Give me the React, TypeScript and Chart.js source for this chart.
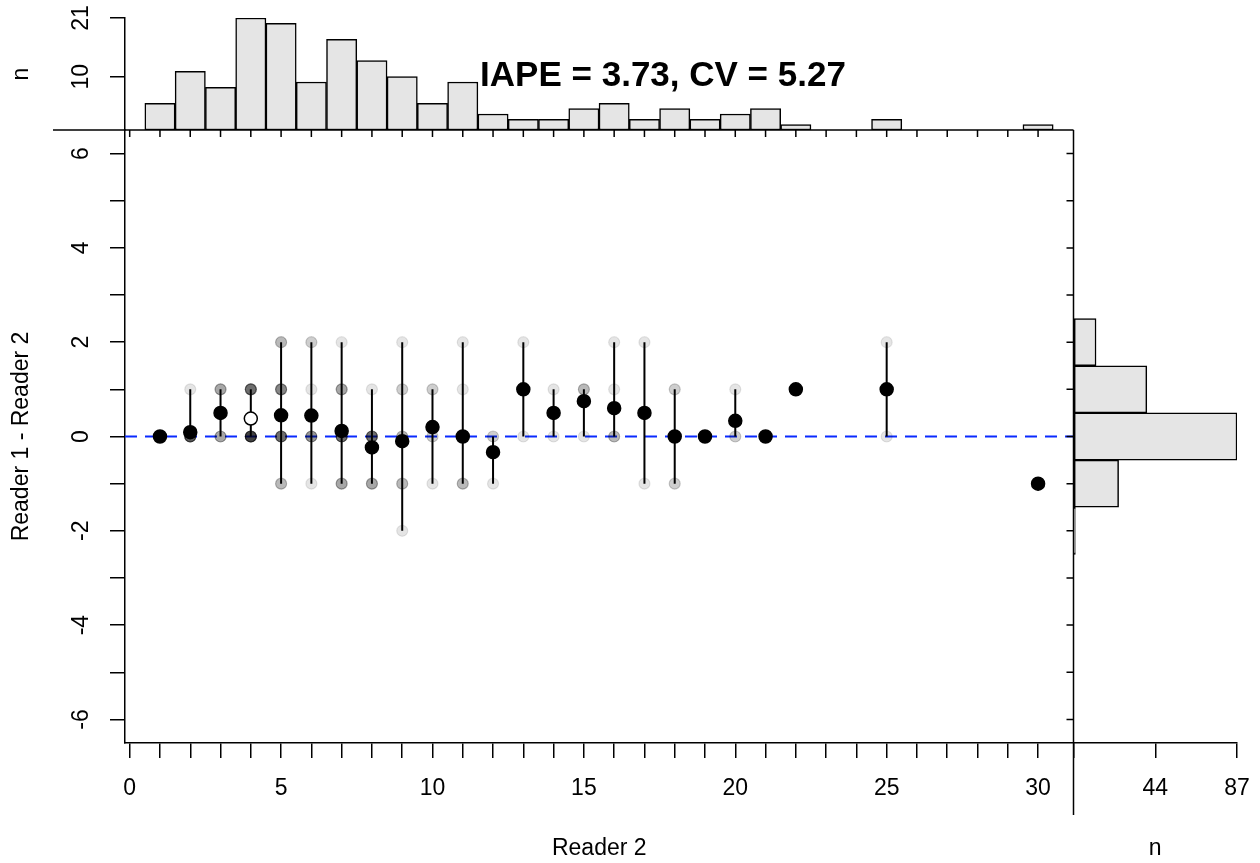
import React, { useEffect, useRef } from 'react';
import { Chart, registerables } from 'chart.js';

Chart.register(...registerables);

// ---- Data ----
// Top histogram: number of fish per Reader 2 age
const HIST_AGE = [1, 2, 3, 4, 5, 6, 7, 8, 9, 10, 11, 12, 13, 14, 15, 16, 17, 18, 19, 20, 21, 22, 25, 30];
const HIST_N = [5, 11, 8, 21, 20, 9, 17, 13, 10, 5, 9, 3, 2, 2, 4, 5, 2, 4, 2, 3, 4, 1, 2, 1];

// Right histogram: number of fish per difference (Reader 1 - Reader 2)
const DIFF_BIN = [2, 1, 0, -1, -2];
const DIFF_N = [12, 39, 87, 24, 1];

// Individual observations (Reader 2 age, difference, count of fish at that pair)
const OBS_AGE = [1, 2, 2, 3, 3, 4, 4, 5, 5, 5, 5, 6, 6, 6, 6, 7, 7, 7, 7, 8, 8, 8, 9, 9, 9, 9, 9, 10, 10, 10, 11, 11, 11, 11, 12, 12, 13, 13, 14, 14, 15, 15, 16, 16, 16, 17, 17, 18, 18, 19, 20, 20, 21, 22, 25, 25, 30];
const OBS_DIFF = [0, 1, 0, 1, 0, 1, 0, 2, 1, 0, -1, 2, 1, 0, -1, 2, 1, 0, -1, 1, 0, -1, 2, 1, 0, -1, -2, 1, 0, -1, 2, 1, 0, -1, 0, -1, 2, 0, 1, 0, 1, 0, 2, 1, 0, 2, -1, 1, -1, 0, 1, 0, 0, 1, 2, 0, -1];
const OBS_COUNT = [5, 1, 10, 4, 4, 8, 13, 3, 6, 8, 3, 2, 1, 5, 1, 1, 4, 8, 4, 1, 8, 4, 1, 2, 3, 3, 1, 2, 2, 1, 1, 1, 4, 3, 2, 1, 1, 1, 1, 1, 3, 1, 1, 1, 3, 1, 1, 2, 2, 2, 1, 2, 4, 1, 1, 1, 1];

// Ages whose mean is drawn with an open symbol
const OPEN_MEAN_AGES = [4];

// Axes
const X_MIN = -0.155;
const X_MAX = 31.17;
const Y_MIN = -6.5;
const Y_MAX = 6.5;
const TOP_MAX = 21;
const RIGHT_MAX = 87;
const X_TICKS = [0, 1, 2, 3, 4, 5, 6, 7, 8, 9, 10, 11, 12, 13, 14, 15, 16, 17, 18, 19, 20, 21, 22, 23, 24, 25, 26, 27, 28, 29, 30];
const Y_TICKS = [-6, -5, -4, -3, -2, -1, 0, 1, 2, 3, 4, 5, 6];
const TOP_TICKS = [10, 21];
const RIGHT_TICKS = [0, 43.5, 87];
const RIGHT_LABELS = ['', '44', '87'];
const STAT_TEXT = 'IAPE = 3.73, CV = 5.27';

const FONT = "'Liberation Sans', Arial, Helvetica, sans-serif";

// ---- Derived tables for the library ----
function buildStats() {
  const ages = Array.from(new Set(OBS_AGE));
  return ages.map((a) => {
    let n = 0, s = 0, mn = Infinity, mx = -Infinity;
    OBS_AGE.forEach((g, i) => {
      if (g === a) {
        n += OBS_COUNT[i];
        s += OBS_DIFF[i] * OBS_COUNT[i];
        mn = Math.min(mn, OBS_DIFF[i]);
        mx = Math.max(mx, OBS_DIFF[i]);
      }
    });
    return { age: a, mean: s / n, min: mn, max: mx };
  });
}

const fitBox = (w: number | null, h: number | null) => (s: any) => {
  if (w !== null) s.width = w;
  if (h !== null) s.height = h;
  s.paddingLeft = 0;
  s.paddingRight = 0;
  s.paddingTop = 0;
  s.paddingBottom = 0;
};

const decorPlugin = {
  id: 'decor',
  afterDatasetsDraw(chart: any) {
    const { ctx, scales } = chart;
    const x = scales.x;
    const yM = scales.yMain;
    const yT = scales.yTop;
    ctx.save();
    ctx.strokeStyle = '#000';
    ctx.lineWidth = 1.5;
    ctx.beginPath();
    const yb = yT.bottom;
    ctx.moveTo(yT.right - 72, yb);
    ctx.lineTo(x.right, yb);
    ctx.moveTo(x.right, yb);
    ctx.lineTo(x.right, yM.bottom + 72);
    X_TICKS.forEach((v) => {
      const px = x.getPixelForValue(v);
      ctx.moveTo(px, yM.top);
      ctx.lineTo(px, yM.top + 7);
    });
    Y_TICKS.forEach((v) => {
      const py = yM.getPixelForValue(v);
      ctx.moveTo(x.right, py);
      ctx.lineTo(x.right - 7, py);
    });
    ctx.stroke();
    ctx.fillStyle = '#000';
    ctx.font = `bold 35px ${FONT}`;
    ctx.textAlign = 'center';
    ctx.textBaseline = 'middle';
    ctx.fillText(STAT_TEXT, 663, 76);
    ctx.restore();
  },
};

export default function App() {
  const ref = useRef<HTMLCanvasElement | null>(null);

  useEffect(() => {
    if (!ref.current) return;
    Chart.defaults.font.family = FONT;
    Chart.defaults.font.size = 23;
    Chart.defaults.color = '#000';

    const stats = buildStats();

    const obsPoints: { x: number; y: number }[] = [];
    OBS_AGE.forEach((a, i) => {
      for (let k = 0; k < OBS_COUNT[i]; k++) obsPoints.push({ x: a, y: OBS_DIFF[i] });
    });

    const rangeData: { x: number; y: number | null }[] = [];
    stats.forEach((s) => {
      if (s.max > s.min) {
        rangeData.push({ x: s.age, y: s.min });
        rangeData.push({ x: s.age, y: s.max });
        rangeData.push({ x: s.age, y: null });
      }
    });

    const meanData = stats.map((s) => ({ x: s.age, y: s.mean }));
    const meanFill = stats.map((s) => (OPEN_MEAN_AGES.includes(s.age) ? '#ffffff' : '#000000'));

    const axisGrid = {
      offset: false,
      drawOnChartArea: false,
      drawTicks: true,
      tickLength: 15,
      tickColor: '#000',
      tickWidth: 1.5,
      color: '#000',
      lineWidth: 1.5,
    };
    const axisBorder = { display: true, color: '#000', width: 1.5 };

    const chart = new Chart(ref.current, {
      type: 'scatter',
      data: {
        datasets: [
          {
            type: 'scatter',
            label: 'mean',
            data: meanData,
            xAxisID: 'x',
            yAxisID: 'yMain',
            pointRadius: 6.5,
            pointBackgroundColor: meanFill,
            pointBorderColor: '#000',
            pointBorderWidth: 1.5,
            order: 0,
            clip: false,
          } as any,
          {
            type: 'scatter',
            label: 'obs',
            data: obsPoints,
            xAxisID: 'x',
            yAxisID: 'yMain',
            pointRadius: 5.5,
            pointBackgroundColor: 'rgba(0,0,0,0.1)',
            pointBorderColor: 'rgba(0,0,0,0.1)',
            pointBorderWidth: 1.2,
            order: 1,
            clip: false,
          } as any,
          {
            type: 'line',
            label: 'range',
            data: rangeData,
            xAxisID: 'x',
            yAxisID: 'yMain',
            borderColor: '#000',
            borderWidth: 2,
            pointRadius: 0,
            spanGaps: false,
            order: 2,
            clip: false,
          } as any,
          {
            type: 'line',
            label: 'zero',
            data: [
              { x: X_MIN, y: 0 },
              { x: X_MAX, y: 0 },
            ],
            xAxisID: 'x',
            yAxisID: 'yMain',
            borderColor: '#0a2aff',
            borderWidth: 2,
            borderDash: [12, 8],
            pointRadius: 0,
            order: 3,
            clip: false,
          } as any,
          {
            type: 'bar',
            label: 'topHist',
            data: HIST_AGE.map((a, i) => ({ x: a, y: HIST_N[i] })),
            xAxisID: 'x',
            yAxisID: 'yTop',
            backgroundColor: '#e5e5e5',
            borderColor: '#000',
            borderWidth: 1.5,
            borderSkipped: false,
            barPercentage: 1,
            categoryPercentage: 1,
            grouped: false,
            order: 4,
          } as any,
          {
            type: 'bar',
            label: 'rightHist',
            indexAxis: 'y',
            data: DIFF_BIN.map((d, i) => ({ x: DIFF_N[i], y: d })),
            xAxisID: 'xRight',
            yAxisID: 'yMain',
            backgroundColor: '#e5e5e5',
            borderColor: '#000',
            borderWidth: 1.5,
            borderSkipped: false,
            barPercentage: 1,
            categoryPercentage: 1,
            grouped: false,
            order: 4,
          } as any,
        ],
      },
      options: {
        responsive: false,
        animation: false,
        devicePixelRatio: 1,
        events: [],
        layout: { padding: { left: 0, top: 18, right: 23, bottom: 0 } },
        plugins: { legend: { display: false }, tooltip: { enabled: false } },
        scales: {
          x: {
            type: 'linear',
            position: 'bottom',
            offset: false,
            stack: 'h',
            stackWeight: 948.5,
            weight: 0,
            min: X_MIN,
            max: X_MAX,
            afterBuildTicks: (s: any) => {
              s.ticks = X_TICKS.map((v) => ({ value: v }));
            },
            afterFit: fitBox(null, 120),
            ticks: {
              autoSkip: false,
              maxRotation: 0,
              minRotation: 0,
              padding: 17,
              callback: (v: any) => (Number(v) % 5 === 0 ? String(v) : ''),
            },
            grid: axisGrid,
            border: axisBorder,
            title: { display: true, text: 'Reader 2', padding: { top: 0, bottom: 1 } },
          },
          xRight: {
            type: 'linear',
            position: 'bottom',
            offset: false,
            stack: 'h',
            stackWeight: 163.5,
            weight: 1,
            min: 0,
            max: RIGHT_MAX,
            afterBuildTicks: (s: any) => {
              s.ticks = RIGHT_TICKS.map((v) => ({ value: v }));
            },
            afterFit: fitBox(null, 120),
            ticks: {
              autoSkip: false,
              maxRotation: 0,
              minRotation: 0,
              padding: 17,
              callback: (_v: any, i: number) => RIGHT_LABELS[i],
            },
            grid: axisGrid,
            border: axisBorder,
            title: { display: true, text: 'n', padding: { top: 0, bottom: 1 } },
          },
          yMain: {
            type: 'linear',
            position: 'left',
            offset: false,
            stack: 'v',
            stackWeight: 613,
            weight: 0,
            min: Y_MIN,
            max: Y_MAX,
            afterBuildTicks: (s: any) => {
              s.ticks = Y_TICKS.map((v) => ({ value: v }));
            },
            afterFit: fitBox(125, null),
            ticks: {
              autoSkip: false,
              minRotation: 90,
              maxRotation: 90,
              crossAlign: 'center',
              padding: 18.5,
              callback: (v: any) => (Number(v) % 2 === 0 ? String(v) : ''),
            },
            grid: axisGrid,
            border: axisBorder,
            title: { display: true, text: 'Reader 1 - Reader 2', padding: { top: 8, bottom: 0 } },
          },
          yTop: {
            type: 'linear',
            position: 'left',
            offset: false,
            stack: 'v',
            stackWeight: 112,
            weight: 1,
            min: 0,
            max: TOP_MAX,
            afterBuildTicks: (s: any) => {
              s.ticks = TOP_TICKS.map((v) => ({ value: v }));
            },
            afterFit: fitBox(125, null),
            ticks: {
              autoSkip: false,
              minRotation: 90,
              maxRotation: 90,
              crossAlign: 'center',
              padding: 16,
            },
            grid: axisGrid,
            border: axisBorder,
            title: { display: true, text: 'n', padding: { top: 8, bottom: 0 } },
          },
        } as any,
      },
      plugins: [decorPlugin],
    } as any);

    return () => chart.destroy();
  }, []);

  return (
    <div style={{ position: 'fixed', left: 0, top: 0, width: 1260, height: 863, background: '#fff' }}>
      <canvas ref={ref} width={1260} height={863} style={{ display: 'block', width: 1260, height: 863 }} />
    </div>
  );
}
